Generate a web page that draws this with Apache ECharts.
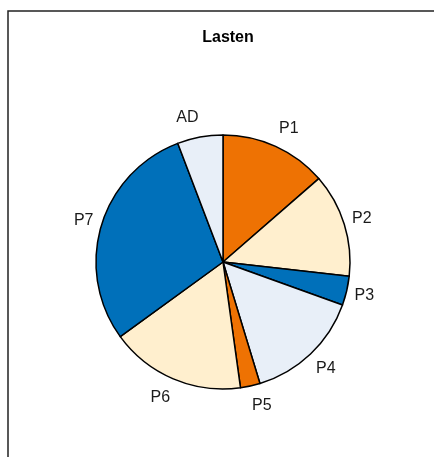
<!DOCTYPE html>
<html>
<head>
<meta charset="utf-8">
<script src="https://cdn.jsdelivr.net/npm/echarts@6/dist/echarts.min.js"></script>
<style>
html,body{margin:0;padding:0;background:#fff;}
#chart{width:434px;height:457px;}
</style>
</head>
<body>
<div id="chart"></div>
<script>
var categories = ['P1', 'P2', 'P3', 'P4', 'P5', 'P6', 'P7', 'AD'];
var values = [13.6, 13.2, 3.7, 14.8, 2.5, 17.2, 29.2, 5.8];
var colors = ['#EE7203', '#FFEFCE', '#0070BA', '#E8EFF8', '#EE7203', '#FFEFCE', '#0070BA', '#E8EFF8'];
var titleText = 'Lasten';

var CX = 223, CY = 262;
var chart = echarts.init(document.getElementById('chart'), null, {renderer: 'canvas'});
chart.setOption({
  animation: false,
  backgroundColor: '#fff',
  title: {
    text: titleText,
    left: 223, top: 25, textAlign: 'center',
    textStyle: {fontFamily: 'Liberation Sans', fontWeight: 'bold', fontSize: 16, color: '#000'}
  },
  graphic: [{
    type: 'rect', silent: true,
    shape: {x: 8, y: 11, width: 600, height: 600},
    style: {fill: null, stroke: '#222', lineWidth: 1.5}
  }],
  series: [{
    type: 'pie',
    center: [CX, CY],
    radius: [0, 127],
    startAngle: 90,
    clockwise: true,
    avoidLabelOverlap: false,
    data: categories.map(function (c, i) {
      return {name: c, value: values[i], itemStyle: {color: colors[i]}};
    }),
    itemStyle: {borderColor: '#000', borderWidth: 1.5},
    label: {
      show: true, position: 'outside', formatter: '{b}',
      fontFamily: 'Liberation Sans', fontSize: 16, color: '#1a1a1a',
      distanceToLabelLine: 0
    },
    labelLine: {show: false, length: 13, length2: 0},
    labelLayout: function (p) {
      var r = p.labelRect;
      var midY = r.y + r.height / 2;
      var leftSide = (r.x + r.width / 2) < CX;
      var ax = leftSide ? r.x + r.width : r.x;
      return {
        dx: -(ax - CX) * 0.035,
        dy: (midY - CY) * 0.05
      };
    },
    emphasis: {disabled: true}
  }]
});
</script>
</body>
</html>
